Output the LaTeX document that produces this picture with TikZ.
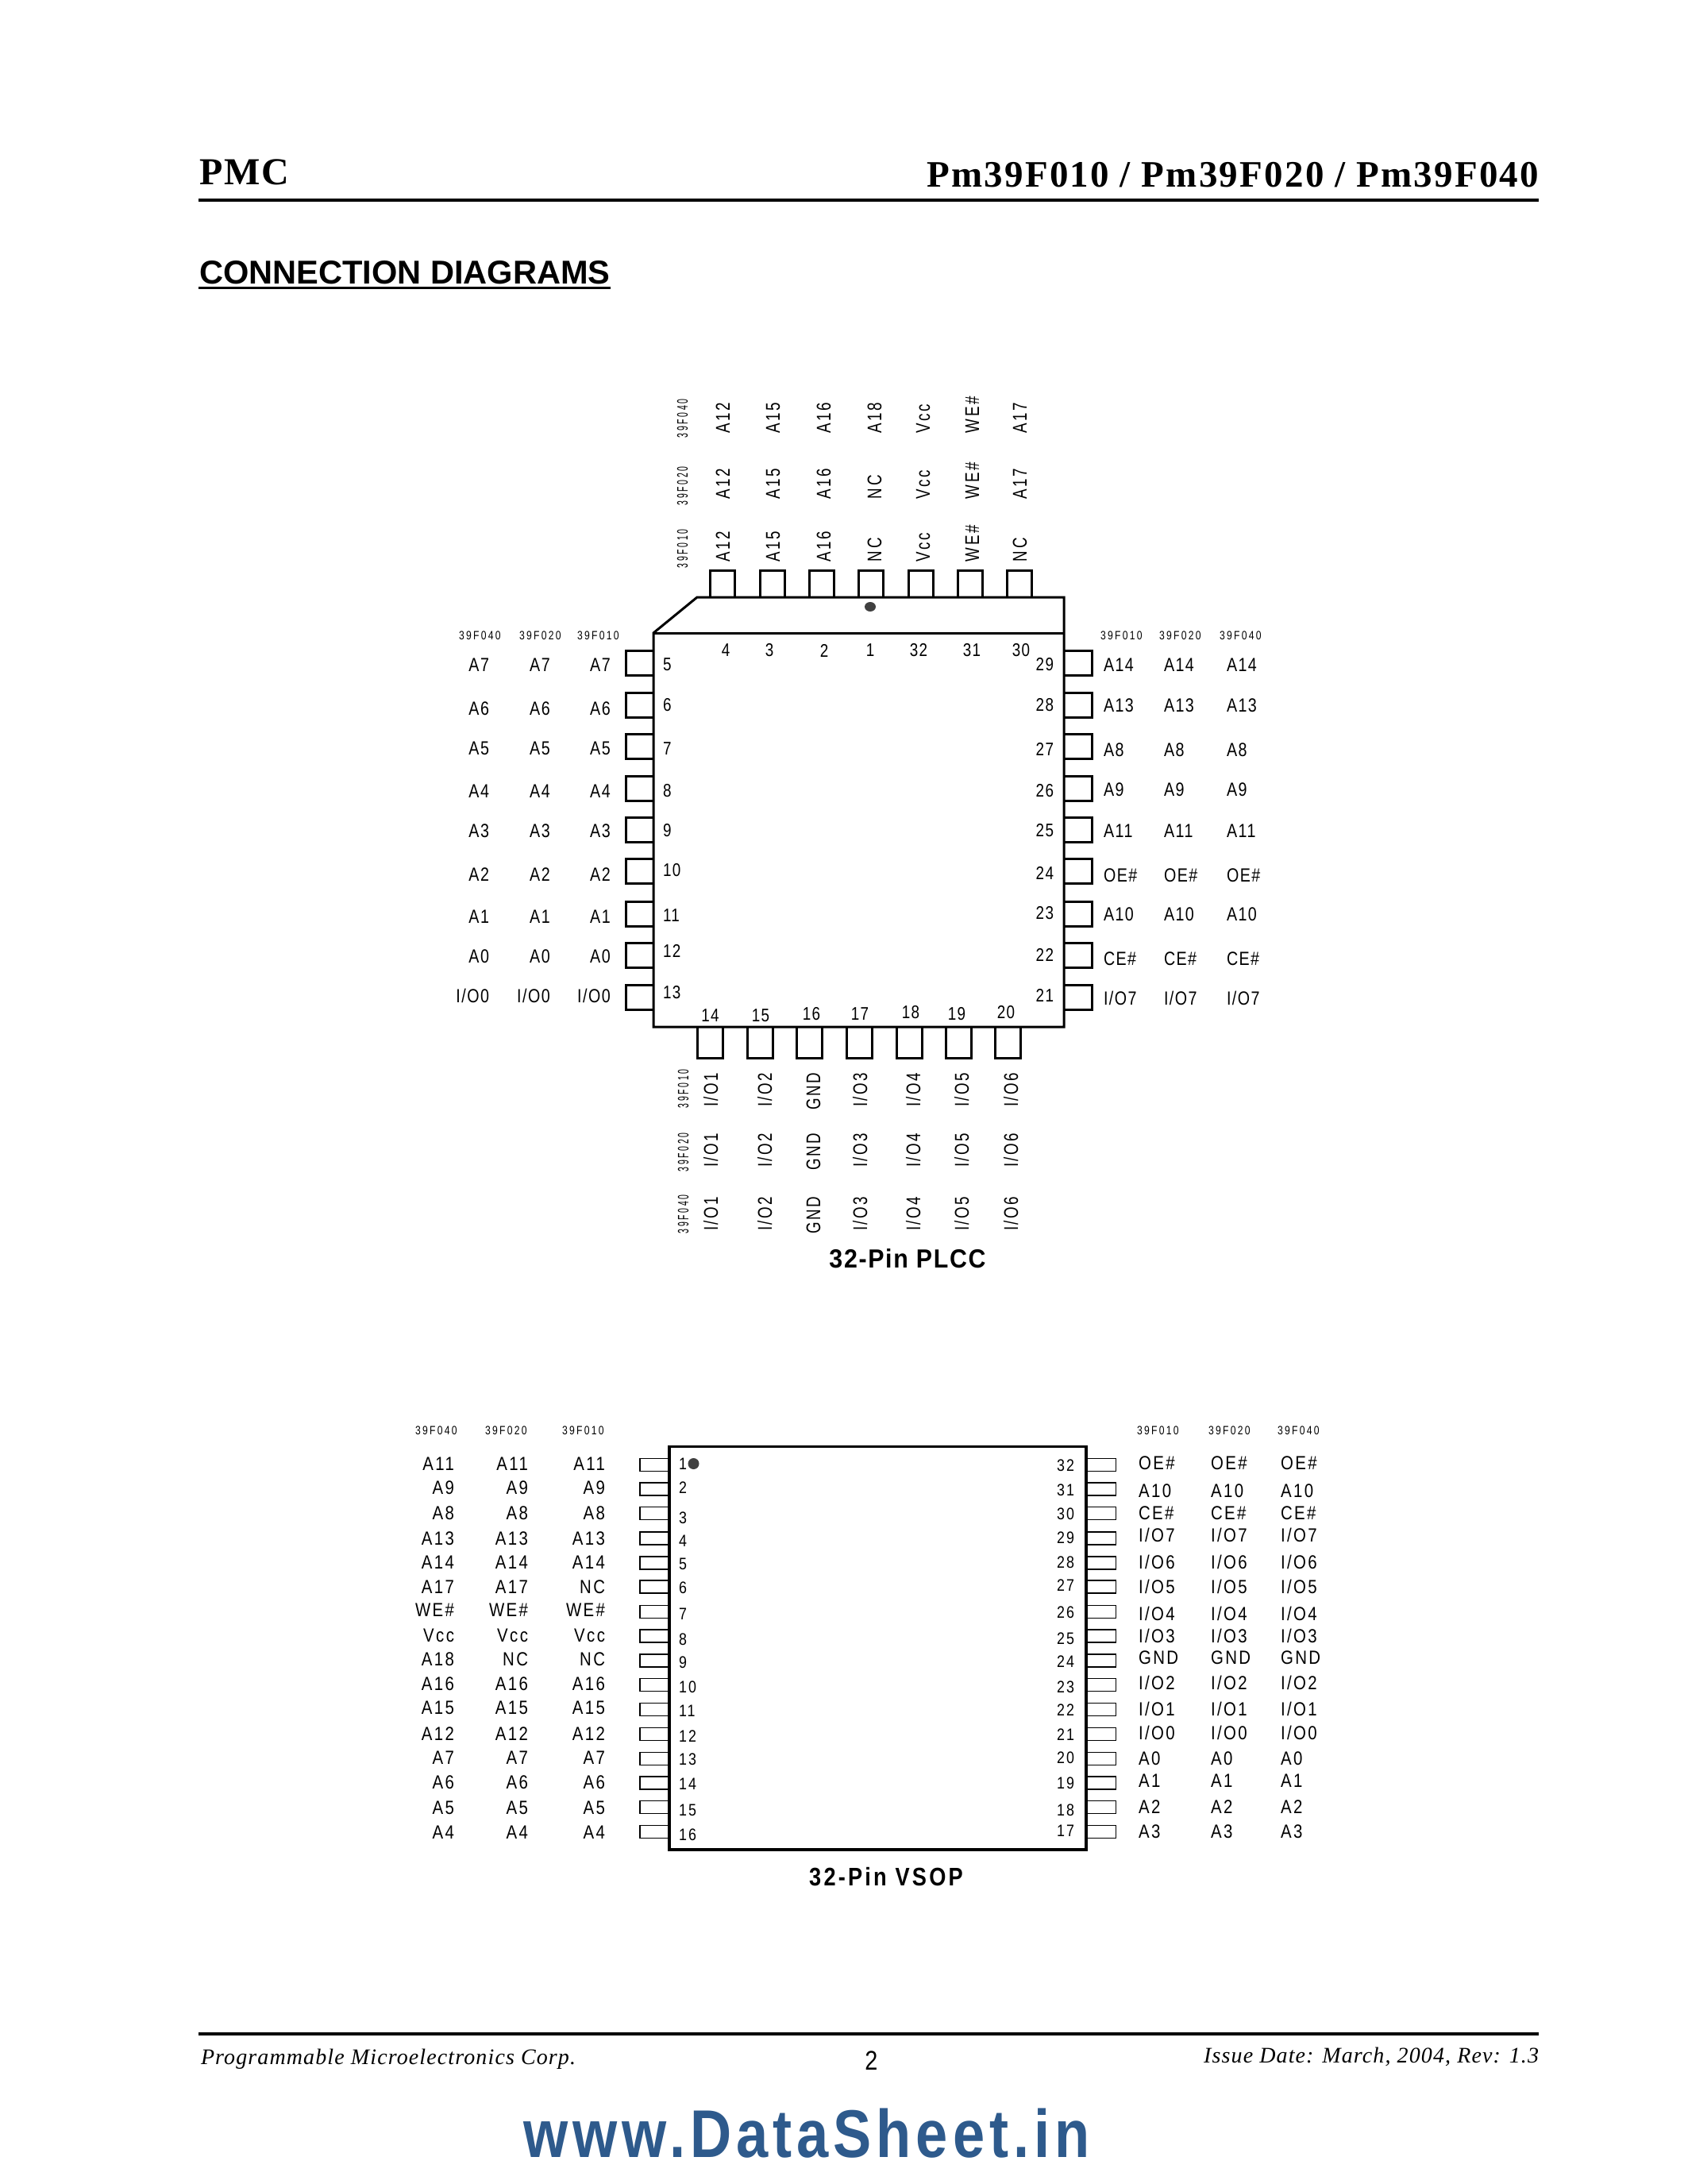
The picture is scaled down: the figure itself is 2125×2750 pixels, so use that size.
\documentclass[tikz,border=0pt]{standalone}
\usepackage{fontspec}
\setmainfont{Liberation Serif}
\newfontfamily\plabf[FakeStretch=0.82,LetterSpace=6]{Liberation Sans}
\newfontfamily\rlabf[FakeStretch=0.75,LetterSpace=10]{Liberation Sans}
\newfontfamily\vlabf[FakeStretch=0.85,LetterSpace=10]{Liberation Sans}
\newfontfamily\smf[FakeStretch=0.8,LetterSpace=15]{Liberation Sans}
\newfontfamily\rsmf[FakeStretch=0.55,LetterSpace=14]{Liberation Sans}
\newfontfamily\plccf[FakeStretch=0.92,LetterSpace=5]{Liberation Sans}
\newfontfamily\vsopf[FakeStretch=0.85,LetterSpace=10]{Liberation Sans}
\newfontfamily\sansf{Liberation Sans}
\newfontfamily\pagef[FakeStretch=0.85]{Liberation Sans}
\newfontfamily\dsf[FakeStretch=0.85,LetterSpace=7]{Liberation Sans}
\newfontfamily\hdrf[LetterSpace=4]{Liberation Serif}
\newfontfamily\titf[LetterSpace=4.7]{Liberation Serif}
\newfontfamily\footf[LetterSpace=4]{Liberation Serif}
\newcommand\IO[1]{I/O#1}
\definecolor{dsblue}{HTML}{2E5A8C}
\tikzset{
  x=0.5pt,y=-0.5pt,
  txt/.style={inner sep=0pt,outer sep=0pt},
  plab/.style={txt,font=\plabf\fontsize{12}{12}\selectfont},
  pnum/.style={txt,font=\plabf\fontsize{11.5}{12}\selectfont},
  vlab/.style={txt,font=\vlabf\fontsize{12}{12}\selectfont},
  vnum/.style={txt,font=\vlabf\fontsize{10.5}{12}\selectfont},
  sm/.style={txt,font=\smf\fontsize{7.6}{8}\selectfont},
  rsm/.style={txt,font=\rsmf\fontsize{9.5}{10}\selectfont,rotate=90,anchor=base west},
  rlabw/.style={txt,font=\rlabf\fontsize{12.5}{13}\selectfont,rotate=90,anchor=base west},
  rlabe/.style={txt,font=\rlabf\fontsize{12.5}{13}\selectfont,rotate=90,anchor=base east},
  body/.style={line width=1.5pt,fill=white},
  plccpin/.style={line width=1.5pt},
  vsoppin/.style={line width=0.7pt,fill=white},
  vbody/.style={line width=1.9pt},
  rulerx/.style={line width=2pt},
}
\begin{document}
\begin{tikzpicture}
\useasboundingbox (0,0) rectangle (2125,2750);
\fill[white] (0,0) rectangle (2125,2750);
% header
\node[txt,anchor=base west,font=\hdrf\bfseries\fontsize{24}{24}\selectfont] (pmc) at (251,233) {PMC};
\node[txt,anchor=base east,font=\titf\bfseries\fontsize{23.5}{24}\selectfont] (title) at (1938,235.5) {Pm39F010 / Pm39F020 / Pm39F040};
\draw[rulerx] (250,252) -- (1938,252);
\node[txt,anchor=base west,font=\sansf\bfseries\fontsize{20.8}{22}\selectfont] (conn) at (251,357.5) {CONNECTION DIAGRAMS};
\draw[line width=1.5pt] (250,362.5) -- (768.5,362.5);
% PLCC pins
\foreach \x in {910,973,1035,1097,1160,1222,1284}
  \draw[plccpin] (\x-15.5,752) -- (\x-15.5,718) -- (\x+15.5,718) -- (\x+15.5,752);
\foreach \x in {894,957,1019,1082,1145,1207,1269}
  \draw[plccpin] (\x-16,1293) -- (\x-16,1332) -- (\x+16,1332) -- (\x+16,1293);
\foreach \y in {834.5,887.5,940,992.5,1045,1097,1150.5,1203,1255.5} {
  \draw[plccpin] (823,\y-15.5) -- (788,\y-15.5) -- (788,\y+15.5) -- (823,\y+15.5);
  \draw[plccpin] (1340,\y-15.5) -- (1375,\y-15.5) -- (1375,\y+15.5) -- (1340,\y+15.5);
}
% PLCC body
\draw[body,line join=miter] (823,797) -- (878,752) -- (1340,752) -- (1340,1293) -- (823,1293) -- cycle;
\draw[body] (823,797) -- (1340,797);
\fill[black!75] (1096,764) ellipse (7 and 6);
% PLCC top labels
\foreach \x/\a/\b/\c/\n/\nx in {
  910/A12/A12/A12/4/914, 973/A15/A15/A15/3/969, 1037/A16/A16/A16/2/1038,
  1101/A18/NC/NC/1/1096, 1162/Vcc/Vcc/Vcc/32/1157, 1224/WE\#/WE\#/WE\#/31/1224,
  1284/A17/A17/NC/30/1286} {
  \node[rlabw] at (\x+9,545) {\a};
  \node[rlabw] at (\x+9,628) {\b};
  \node[rlabw] at (\x+9,707) {\c};
  \node[pnum,anchor=center] at (\nx,819) {\n};
}
\node[rsm] (t40) at (866,551) {39F040};
\node[rsm] (t20) at (866,636) {39F020};
\node[rsm] (t10) at (866,715) {39F010};
% PLCC bottom labels
\foreach \x/\t/\n/\nx/\ny in {
  895/\IO{1}/14/894.5/1279, 963/\IO{2}/15/958/1279, 1024/GND/16/1022/1277,
  1083/\IO{3}/17/1083/1277, 1150/\IO{4}/18/1147/1275, 1211/\IO{5}/19/1205/1277,
  1273/\IO{6}/20/1267/1275} {
  \node[rlabe] at (\x+9,1351) {\t};
  \node[rlabe] at (\x+9,1427) {\t};
  \node[rlabe] at (\x+9,1507) {\t};
  \node[pnum,anchor=center] at (\nx,\ny) {\n};
}
\node[rsm] (b10) at (867,1395) {39F010};
\node[rsm] (b20) at (867,1475) {39F020};
\node[rsm] (b40) at (867,1553) {39F040};
% PLCC left labels
\foreach \t/\y/\n/\ny in {
  A7/837/5/835.7, A6/892/6/887, A5/941.7/7/941.7, A4/995.7/8/995, A3/1046/9/1045,
  A2/1101/10/1095, A1/1154/11/1152, A0/1204/12/1197, \IO{0}/1254/13/1249} {
  \node[plab,anchor=base east] at (616,{\y+8.3}) {\t};
  \node[plab,anchor=base east] at (692.7,{\y+8.3}) {\t};
  \node[plab,anchor=base east] at (768.7,{\y+8.3}) {\t};
  \node[pnum,anchor=base west] at (835,{\ny+8.3}) {\n};
}
\node[sm,anchor=base west] (l40) at (578,805.5) {39F040};
\node[sm,anchor=base west] (l20) at (654,805.5) {39F020};
\node[sm,anchor=base west] (l10) at (727,805.5) {39F010};
% PLCC right labels
\foreach \t/\y/\n/\ny in {
  A14/837/29/836, A13/888/28/887, A8/944/27/943, A9/994/26/995, A11/1046/25/1045,
  OE\#/1102/24/1099, A10/1151/23/1149, CE\#/1207/22/1202, \IO{7}/1257/21/1253} {
  \node[plab,anchor=base west] at (1390,{\y+8.3}) {\t};
  \node[plab,anchor=base west] at (1466,{\y+8.3}) {\t};
  \node[plab,anchor=base west] at (1545,{\y+8.3}) {\t};
  \node[pnum,anchor=base east] at (1327,{\ny+8.3}) {\n};
}
\node[sm,anchor=base west] (r10) at (1386,805.5) {39F010};
\node[sm,anchor=base west] (r20) at (1460,805.5) {39F020};
\node[sm,anchor=base west] (r40) at (1536,805.5) {39F040};
\node[txt,anchor=base,font=\plccf\bfseries\fontsize{16.5}{18}\selectfont] (plcc) at (1143,1596.5) {32-Pin PLCC};
% VSOP
\foreach \y in {1844.2,1874.8,1905.4,1936.8,1967.8,1998,2029.4,2060,2091,2121.6,2152.3,2183.6,2214.3,2245,2275.5,2306.5} {
  \draw[vsoppin] (843,\y-8) rectangle (806,\y+8);
  \draw[vsoppin] (1368,\y-8) rectangle (1405.5,\y+8);
}
\draw[vbody,fill=white] (843,1821.5) rectangle (1368,2329);
\fill[black!75] (873.5,1843) circle (7);
\foreach \a/\b/\c/\y/\n/\ny in {
  A11/A11/A11/1843.4/1/1843.4, A9/A9/A9/1873.3/2/1873.3, A8/A8/A8/1904.7/3/1911.2,
  A13/A13/A13/1936.8/4/1939.9, A14/A14/A14/1967.4/5/1969.3, A17/A17/NC/1998/6/1999.2,
  WE\#/WE\#/WE\#/2027.1/7/2031.7, Vcc/Vcc/Vcc/2059.3/8/2064.2, A18/NC/NC/2089.1/9/2093,
  A16/A16/A16/2120.5/10/2123.6, A15/A15/A15/2150.4/11/2154.2, A12/A12/A12/2182.9/12/2185.6,
  A7/A7/A7/2213.5/13/2214.6, A6/A6/A6/2244.5/14/2246, A5/A5/A5/2276.6/15/2278.9, A4/A4/A4/2307.3/16/2309.6} {
  \node[vlab,anchor=base east] at (572,{\y+8.3}) {\a};
  \node[vlab,anchor=base east] at (665,{\y+8.3}) {\b};
  \node[vlab,anchor=base east] at (762,{\y+8.3}) {\c};
  \node[vnum,anchor=base west] at (855,{\ny+7.5}) {\n};
}
\foreach \t/\y/\n/\ny in {
  OE\#/1842.3/32/1845, A10/1876.7/31/1876, CE\#/1905.4/30/1905.8, \IO{7}/1933/29/1936.4,
  \IO{6}/1967/28/1966.7, \IO{5}/1998/27/1996.1, \IO{4}/2031.7/26/2030.2, \IO{3}/2059.7/25/2063.1,
  GND/2087.2/24/2092.2, \IO{2}/2119/23/2124, \IO{1}/2152.3/22/2153, \IO{0}/2182.1/21/2184.4,
  A0/2214.3/20/2212.7, A1/2242.2/19/2245.3, A2/2274.7/18/2278.6, A3/2305.7/17/2305} {
  \node[vlab,anchor=base west] at (1434,{\y+8.3}) {\t};
  \node[vlab,anchor=base west] at (1525,{\y+8.3}) {\t};
  \node[vlab,anchor=base west] at (1613,{\y+8.3}) {\t};
  \node[vnum,anchor=base east] at (1353,{\ny+7.5}) {\n};
}
\node[sm,anchor=base west] (v40) at (523,1806) {39F040};
\node[sm,anchor=base west] (v20) at (611,1806) {39F020};
\node[sm,anchor=base west] (v10) at (708,1806) {39F010};
\node[sm,anchor=base west] (w10) at (1432,1806) {39F010};
\node[sm,anchor=base west] (w20) at (1522,1806) {39F020};
\node[sm,anchor=base west] (w40) at (1609,1806) {39F040};
\node[txt,anchor=base,font=\vsopf\bfseries\fontsize{16}{18}\selectfont] (vsop) at (1116,2374) {32-Pin VSOP};
% footer
\draw[rulerx] (250,2561) -- (1938,2561);
\node[txt,anchor=base west,font=\footf\itshape\fontsize{14}{15}\selectfont] (corp) at (253,2599) {Programmable Microelectronics Corp.};
\node[txt,anchor=base,font=\pagef\fontsize{17}{18}\selectfont] (page) at (1097.5,2606) {2};
\node[txt,anchor=base east,font=\footf\itshape\fontsize{14}{15}\selectfont] (issue) at (1938,2597) {Issue Date: March, 2004, Rev: 1.3};
\node[txt,anchor=base,font=\dsf\bfseries\fontsize{42.5}{44}\selectfont,text=dsblue] (ds) at (1016,2716) {www.DataSheet.in};
\end{tikzpicture}
\end{document}
